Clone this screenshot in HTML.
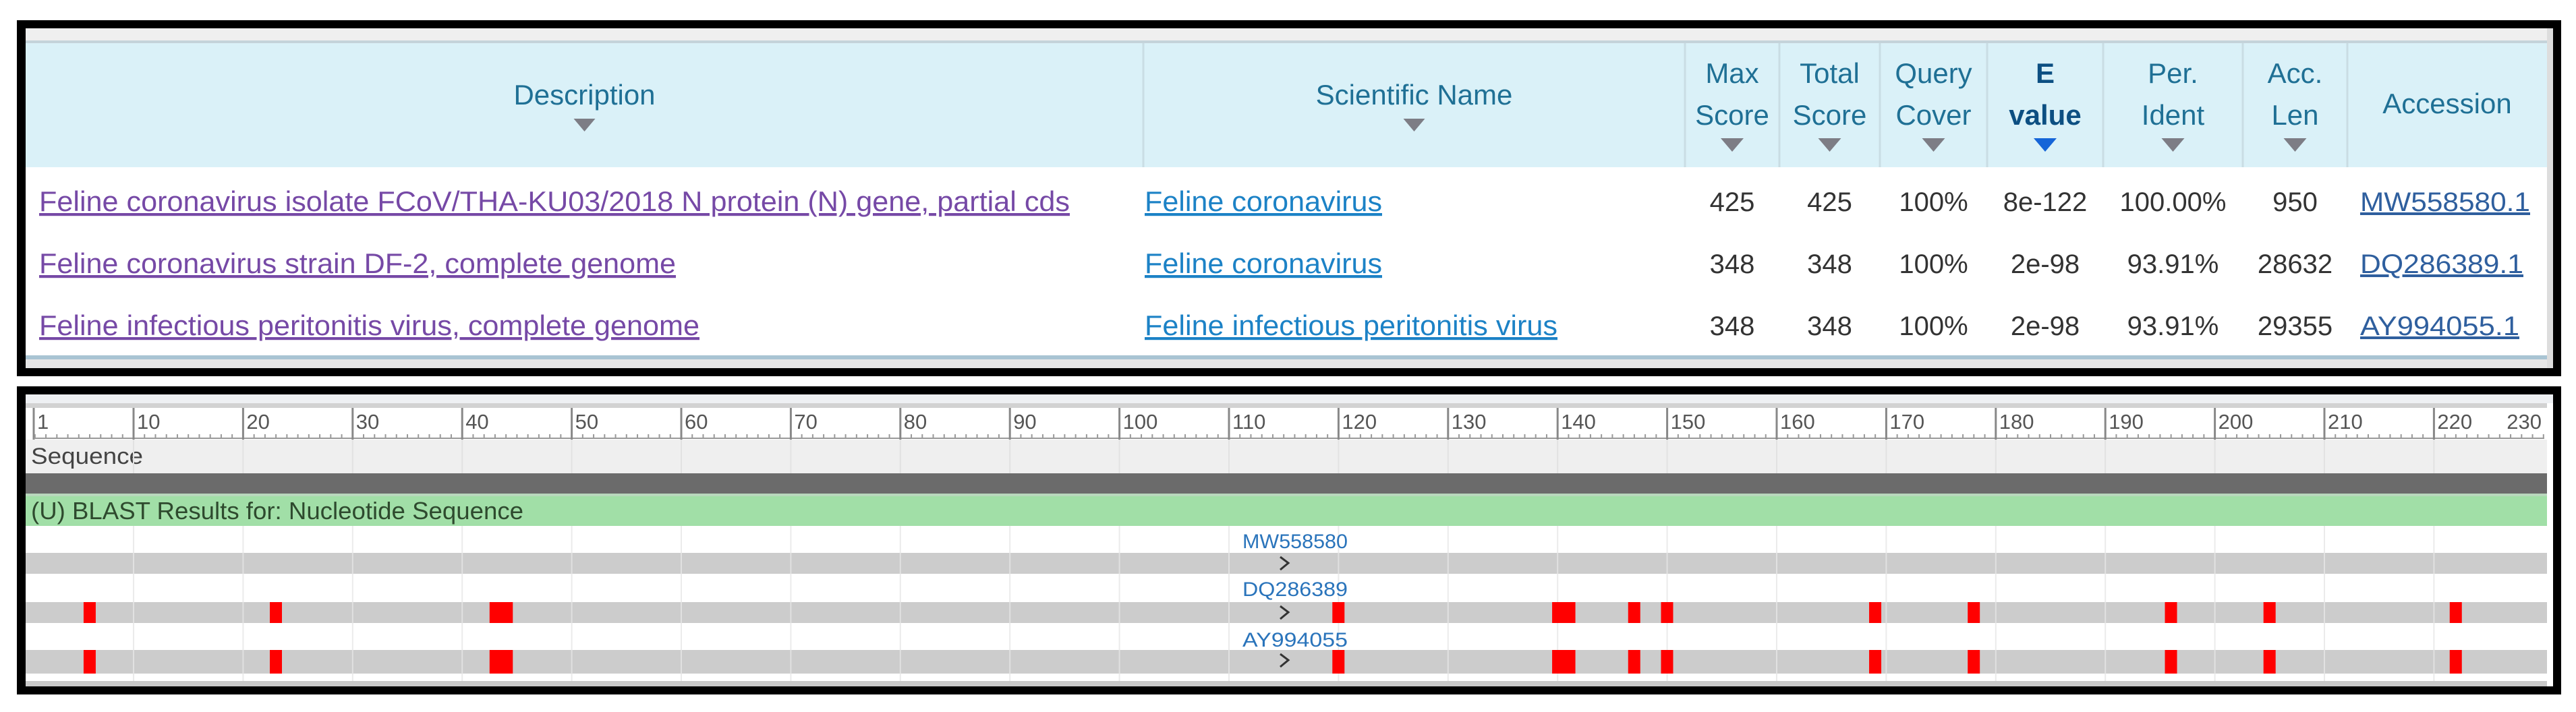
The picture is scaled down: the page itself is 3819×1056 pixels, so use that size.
<!DOCTYPE html>
<html><head><meta charset="utf-8"><style>
html,body{margin:0;padding:0;background:#fff;width:3819px;height:1056px;overflow:hidden}
svg{display:block;font-family:"Liberation Sans",Arial,sans-serif}
</style></head><body>
<svg id="root" width="3819" height="1056" viewBox="0 0 3819 1056">
<g>
<rect x="25" y="30" width="3772" height="528" fill="#000"/>
<rect x="38" y="42" width="3747" height="504" fill="#fff"/>
<rect x="38" y="42" width="3747" height="20" fill="#efefef"/>
<rect x="38" y="60" width="3740" height="4" fill="#c4d3da"/>
<rect x="38" y="64" width="3740" height="184" fill="#daf1f8"/>
<rect x="38" y="527" width="3740" height="6" fill="#a9c4d3"/>
<rect x="38" y="533" width="3747" height="13" fill="#e6e6e6"/>
<rect x="3776" y="42" width="9" height="504" fill="#ddd"/>
<g id="hdr"></g>
<g id="rows"></g>
</g>
<g>
<rect x="25" y="573" width="3772" height="457" fill="#000"/>
<rect x="38" y="585" width="3747" height="433" fill="#fff"/>
<rect x="38" y="585" width="3747" height="13" fill="#eef0f3"/>
<rect x="38" y="598" width="3738" height="7" fill="#d2d2d2"/>
<rect x="50" y="605" width="3722" height="45" fill="#fff"/>
<rect x="38" y="652" width="3738" height="50" fill="#efefef"/>
<text x="46" y="688" font-size="34" fill="#444" textLength="166" lengthAdjust="spacingAndGlyphs">Sequence</text>
<rect x="38" y="702" width="3738" height="30" fill="#6b6b6b"/>
<rect x="38" y="732" width="3738" height="4" fill="#b8d8bc"/>
<rect x="38" y="736" width="3738" height="44" fill="#a1dfa7"/>
<text x="46" y="770" font-size="36" fill="#2e4a2e" textLength="730" lengthAdjust="spacingAndGlyphs">(U) BLAST Results for: Nucleotide Sequence</text>
<g id="tracks"></g>
<g id="grid"></g>
<g id="marks"></g>
<g id="ruler"></g>
<rect x="38" y="1010" width="3738" height="8" fill="#c8c8c8"/>
</g>
</svg>
<script>
// ---- table data ----
const descriptions = ["Feline coronavirus isolate FCoV/THA-KU03/2018 N protein (N) gene, partial cds","Feline coronavirus strain DF-2, complete genome","Feline infectious peritonitis virus, complete genome"];
const sciNames = ["Feline coronavirus","Feline coronavirus","Feline infectious peritonitis virus"];
const maxScores = ["425","348","348"];
const totalScores = ["425","348","348"];
const queryCovers = ["100%","100%","100%"];
const evalues = ["8e-122","2e-98","2e-98"];
const perIdents = ["100.00%","93.91%","93.91%"];
const accLens = ["950","28632","29355"];
const accessions = ["MW558580.1","DQ286389.1","AY994055.1"];
// ---- graphic data ----
const rulerTicks = [10,20,30,40,50,60,70,80,90,100,110,120,130,140,150,160,170,180,190,200,210,220];
const trackLabels = ["MW558580","DQ286389","AY994055"];
const mismatchStart = [[],[6,23,43,120,140,147,150,169,178,196,205,222],[6,23,43,120,140,147,150,169,178,196,205,222]];
const mismatchLen = [[],[1,1,2,1,2,1,1,1,1,1,1,1],[1,1,2,1,2,1,1,1,1,1,1,1]];
const seqLength = 230;

const NS="http://www.w3.org/2000/svg";
function mk(tag,attrs,parent,txt){const e=document.createElementNS(NS,tag);for(const k in attrs)e.setAttribute(k,attrs[k]);if(txt!==undefined)e.textContent=txt;parent.appendChild(e);return e;}
const hdr=document.getElementById('hdr'), rows=document.getElementById('rows');
const cols=[[38,1695],[1695,2498],[2498,2638],[2638,2787],[2787,2946],[2946,3118],[3118,3325],[3325,3480],[3480,3776]];
for(let i=1;i<cols.length;i++){
  const l=mk('line',{x1:cols[i][0],x2:cols[i][0],y1:64,y2:248,stroke:'#c9dde4','stroke-width':3},hdr);
  
  
}
const heads=[["Description"],["Scientific Name"],["Max","Score"],["Total","Score"],["Query","Cover"],["E","value"],["Per.","Ident"],["Acc.","Len"],["Accession"]];
const headNames=['description','scientific-name','max-score','total-score','query-cover','e-value','per-ident','acc-len','accession'];
heads.forEach((h,i)=>{
  const cx=(cols[i][0]+cols[i][1])/2;
  const g=mk('g',{},hdr);
  
  
  const bold=i===5, col=bold?'#0c4f82':'#1f7095';
  if(h.length===1){
    mk('text',{x:cx,y:i===8?168:155,'font-size':42,fill:col,'text-anchor':'middle'},g,h[0]);
    if(i<2) { mk('path',{d:`M${cx-16} 176 L${cx+16} 176 L${cx} 195 Z`,fill:'#7d7d85'},g); }
  } else {
    mk('text',{x:cx,y:123,'font-size':42,fill:col,'text-anchor':'middle','font-weight':bold?'bold':'normal'},g,h[0]);
    mk('text',{x:cx,y:185,'font-size':42,fill:col,'text-anchor':'middle','font-weight':bold?'bold':'normal'},g,h[1]);
    if(i!==8) mk('path',{d:`M${cx-17} 205 L${cx+17} 205 L${cx} 225 Z`,fill:bold?'#1565d8':'#7d7d85'},g);
  }
});
const rowY=[313,405,497];
const descW=[1528,944,979], sciW=[352,352,612];
descriptions.forEach((d,r)=>{
  const y=rowY[r];
  const t=mk('text',{x:58,y:y,'font-size':42,fill:'#7649a6','text-decoration':'underline',textLength:descW[r],lengthAdjust:'spacingAndGlyphs'},rows,d);
  
  
  const s=mk('text',{x:1697,y:y,'font-size':42,fill:'#1c82c6','text-decoration':'underline',textLength:sciW[r],lengthAdjust:'spacingAndGlyphs'},rows,sciNames[r]);
  
  
  const vals=[maxScores[r],totalScores[r],queryCovers[r],evalues[r],perIdents[r],accLens[r]];
  vals.forEach((v,k)=>{
    const c=cols[k+2], cx=(c[0]+c[1])/2;
    const n=mk('text',{x:cx,y:y,'font-size':40,fill:'#333','text-anchor':'middle'},rows,v);
    
    
  });
  const a=mk('text',{x:3499,y:y,'font-size':40,fill:'#2f5f9e','text-decoration':'underline',textLength:r===0?252:(r===1?242:236),lengthAdjust:'spacingAndGlyphs'},rows,accessions[r]);
  
  
});
// ---- graphic ----
const X=p=>198+(p-10)*16.24;
const grid=document.getElementById('grid'), tracks=document.getElementById('tracks'), marks=document.getElementById('marks'), ruler=document.getElementById('ruler');
const trackTop=[780,851,926];
trackLabels.forEach((lab,i)=>{
  const y0=trackTop[i];
  const w=mk('rect',{x:38,y:y0,width:3738,height:i===2?38:40,fill:'#fff'},tracks);
  
  
  const gy=[820,893,964][i];
  const gh=i===2?35:31;
  const b=mk('rect',{x:38,y:gy,width:3738,height:gh,fill:'#cccccc'},tracks);
  
  
  const t=mk('text',{x:1920,y:y0+33,'font-size':30,fill:'#2a74bb','text-anchor':'middle',textLength:156,lengthAdjust:'spacingAndGlyphs'},marks,lab);
  
  
  const ch=mk('path',{d:`M${1898} ${gy+6} L${1910} ${gy+15} L${1898} ${gy+25}`,fill:'none',stroke:'#333','stroke-width':3},marks);
  
  
  mismatchStart[i].forEach((s,k)=>{
    const L=mismatchLen[i][k];
    const x0=X(s-0.5)+(L===1?-1:0), w2=L===1?18:L*16.24+2;
    const m=mk('rect',{x:x0,y:gy,width:w2,height:gh,fill:'#ff0000'},marks);
    
    
  });
});
rulerTicks.forEach(p=>{
  const gl=mk('line',{x1:X(p),x2:X(p),y1:652,y2:702,stroke:'#e2e2e2','stroke-width':2},grid);
  
  
  const gl2=mk('line',{x1:X(p),x2:X(p),y1:780,y2:1010,stroke:'#e6e6e6','stroke-width':2,'stroke-opacity':0.8},grid);
  
  
});
mk('line',{x1:50,x2:50,y1:605,y2:652,stroke:'#888','stroke-width':3},ruler);
mk('line',{x1:50,x2:3772,y1:650,y2:650,stroke:'#999','stroke-width':2},ruler);
for(let p=1;p<=seqLength;p++){
  const x=X(p);
  if(x>3772) break;
  mk('line',{x1:x,x2:x,y1:644,y2:650,stroke:'#999','stroke-width':2},ruler);
}
rulerTicks.forEach(p=>{
  const l=mk('line',{x1:X(p),x2:X(p),y1:605,y2:652,stroke:'#888','stroke-width':3},ruler);
  
  
  const t=mk('text',{x:X(p)+5,y:636,'font-size':31,fill:'#555'},ruler,String(p));
  
  
});
const t1=mk('text',{x:55,y:636,'font-size':31,fill:'#555'},ruler,'1');


const tEnd=mk('text',{x:3768,y:636,'font-size':31,fill:'#555','text-anchor':'end'},ruler,String(seqLength));


</script>
</body></html>
